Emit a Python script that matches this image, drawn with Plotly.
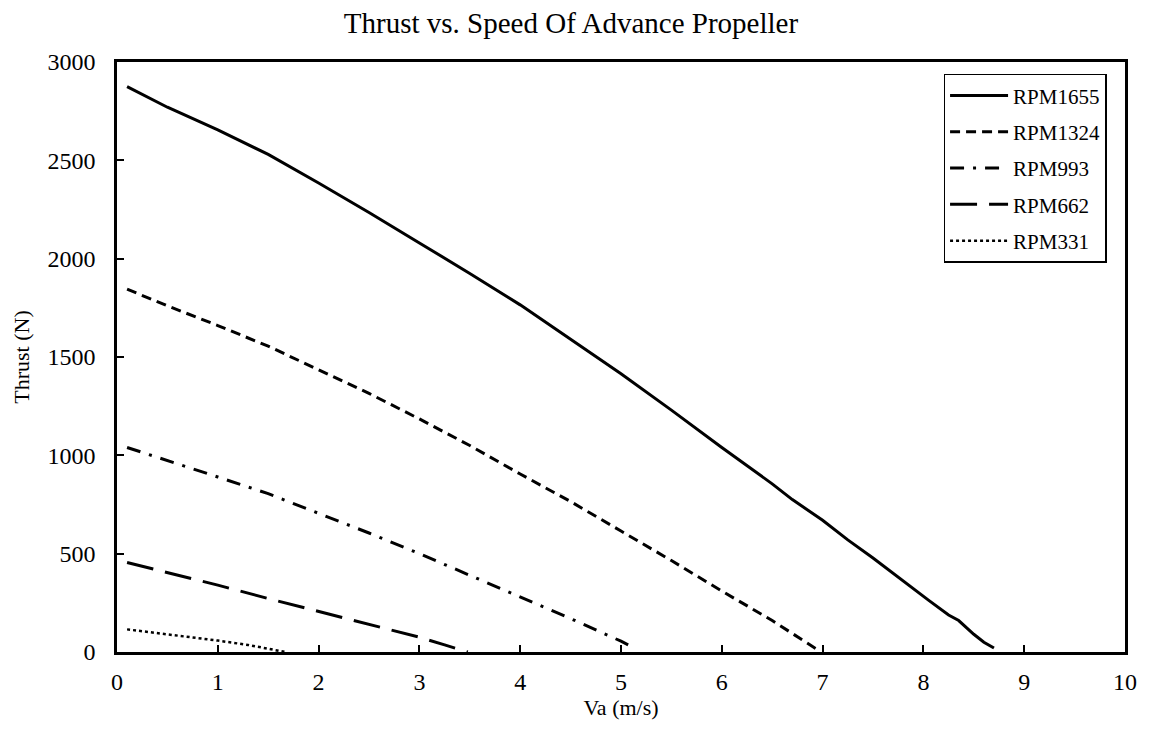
import plotly.graph_objects as go

# Data
va_1655 = [0.1, 0.5, 1.0, 1.5, 2.0, 2.5, 3.0, 3.5, 4.0, 4.5, 5.0, 5.5, 6.0, 6.5, 6.7, 7.0, 7.25, 7.5, 7.8, 8.05, 8.25, 8.35, 8.5, 8.6, 8.7]
thrust_1655 = [2875, 2770, 2655, 2530, 2385, 2235, 2080, 1925, 1765, 1590, 1415, 1230, 1040, 855, 775, 670, 570, 478, 360, 264, 188, 160, 90, 50, 20]

va_1324 = [0.1, 0.5, 1.0, 1.5, 2.0, 2.5, 3.0, 3.5, 4.0, 4.5, 5.0, 5.5, 6.0, 6.5, 6.97]
thrust_1324 = [1845, 1760, 1660, 1555, 1435, 1315, 1185, 1050, 905, 765, 615, 465, 310, 160, 5]

va_993 = [0.1, 0.5, 1.0, 1.5, 2.0, 2.5, 3.0, 3.5, 4.0, 4.5, 5.0, 5.15]
thrust_993 = [1040, 975, 890, 805, 705, 605, 500, 390, 283, 170, 55, 15]

va_662 = [0.1, 0.5, 1.0, 1.5, 2.0, 2.5, 3.0, 3.25, 3.48]
thrust_662 = [455, 405, 340, 272, 205, 140, 75, 36, 0]

va_331 = [0.1, 0.5, 1.0, 1.3, 1.5, 1.67]
thrust_331 = [115, 90, 58, 36, 18, 0]

names = ["RPM1655", "RPM1324", "RPM993", "RPM662", "RPM331"]
xs = [va_1655, va_1324, va_993, va_662, va_331]
ys = [thrust_1655, thrust_1324, thrust_993, thrust_662, thrust_331]
dashes = ["solid", "10px,6px", "14px,9px,3px,9px", "27px,12px", "3px,3px"]
widths = [3, 3, 3, 3, 2.5]

FONT = "Liberation Serif"

fig = go.Figure()
for n, x, y, d, w in zip(names, xs, ys, dashes, widths):
    fig.add_trace(go.Scatter(x=x, y=y, name=n, mode="lines", legendgroup=n,
                             line=dict(color="black", width=w, dash=d)))

axis_common = dict(
    showline=True, linecolor="black", linewidth=2.5, mirror=True,
    ticks="inside", ticklen=7, tickwidth=2, tickcolor="black",
    showgrid=False, zeroline=False,
    tickfont=dict(family=FONT, size=24, color="black"),
)

# page body has an 8px margin, so the figure is sized/offset accordingly
fig.update_layout(
    width=1141, height=728,
    paper_bgcolor="white", plot_bgcolor="white",
    margin=dict(l=106, r=21, t=54, b=84),
    title=dict(text="Thrust vs. Speed Of Advance Propeller", x=0.4934, xanchor="center",
               xref="container", y=0.979, yanchor="middle",
               font=dict(family=FONT, size=29, color="black")),
    xaxis=dict(range=[0, 10], dtick=1, tick0=0, ticklabelstandoff=6,
               title=dict(text="Va (m/s)", font=dict(family=FONT, size=22, color="black"), standoff=6),
               **axis_common),
    yaxis=dict(range=[0, 3000], dtick=500, tick0=0, ticklabelstandoff=14,
               title=dict(text="Thrust (N)", font=dict(family=FONT, size=22, color="black"), standoff=12),
               **axis_common),
    legend=dict(x=0.82, y=0.98, xanchor="left", yanchor="top",
                bgcolor="white", bordercolor="black", borderwidth=1.5,
                font=dict(family=FONT, size=21, color="black"),
                tracegroupgap=6, itemwidth=58),
    showlegend=True,
)

fig.write_html("out.html")
